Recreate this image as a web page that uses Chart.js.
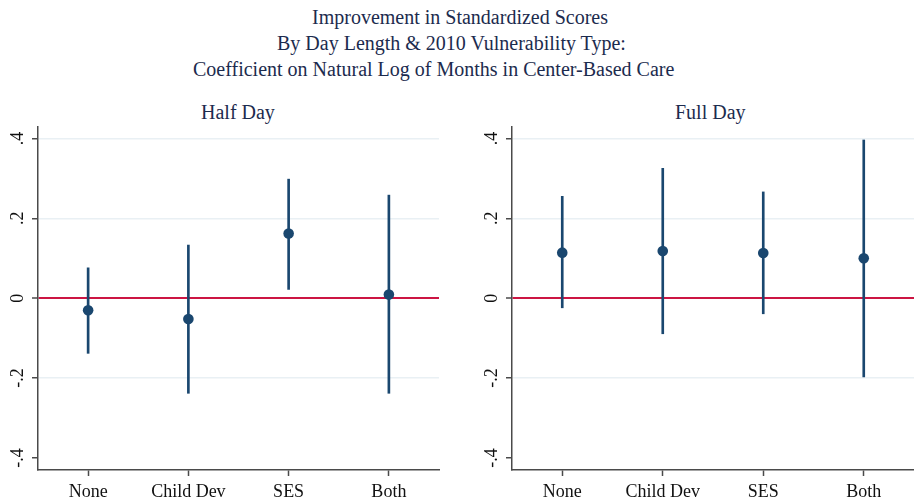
<!DOCTYPE html>
<html>
<head>
<meta charset="utf-8">
<script src="https://cdn.jsdelivr.net/npm/chart.js@4/dist/chart.umd.min.js"></script>
<style>
  html, body { margin: 0; padding: 0; background: #ffffff; }
  #wrap { position: relative; width: 914px; height: 504px; overflow: hidden;
          font-family: "Liberation Serif", "Times New Roman", serif; }
  .tl { position: absolute; font-size: 20px; line-height: 26px; color: #1c2b4e; white-space: nowrap; }
  .pt { position: absolute; top: 101px; font-size: 20px; line-height: 22px; color: #1c2b4e; white-space: nowrap; }
  canvas { position: absolute; top: 0; }
</style>
</head>
<body>
<div id="wrap">
  <div class="tl" style="left:312px; top:4px;">Improvement in Standardized Scores</div>
  <div class="tl" style="left:277px; top:30px;">By Day Length &amp; 2010 Vulnerability Type:</div>
  <div class="tl" style="left:193px; top:56px;">Coefficient on Natural Log of Months in Center-Based Care</div>
  <div class="pt" style="left:201px;">Half Day</div>
  <div class="pt" style="left:675px;">Full Day</div>
  <canvas id="half" width="460" height="504" style="left:0;"></canvas>
  <canvas id="full" width="454" height="504" style="left:460px;"></canvas>
</div>
<script>
// Vulnerability groups on the x axis
const categories = ['None', 'Child Dev', 'SES', 'Both'];

// Half-day programmes: point estimate and 95% confidence bounds
const halfEst = [-0.030, -0.052, 0.162, 0.009];
const halfLo  = [-0.138, -0.238, 0.022, -0.238];
const halfHi  = [0.076, 0.133, 0.298, 0.258];

// Full-day programmes
const fullEst = [0.114, 0.118, 0.113, 0.100];
const fullLo  = [-0.024, -0.089, -0.039, -0.197];
const fullHi  = [0.255, 0.325, 0.266, 0.396];

// Y axis ticks
const yTickValues = [-0.4, -0.2, 0, 0.2, 0.4];
const yTickLabels = ['-.4', '-.2', '0', '.2', '.4'];

const SERIF = '"Liberation Serif", "Times New Roman", serif';
const NAVY = '#1a476f';
const AXIS = '#4a4a4a';
const GRID = '#e9f0f4';
const ZERO = '#cc1543';

function makePanel(id, est, lo, hi, yAxisWidth, rightPad) {
  const ranges = lo.map((v, i) => [v, hi[i]]);
  return new Chart(document.getElementById(id), {
    type: 'bar',
    data: {
      labels: categories,
      datasets: [
        {
          type: 'line',
          data: est,
          showLine: false,
          pointRadius: 5.3,
          pointHoverRadius: 5.3,
          pointBackgroundColor: NAVY,
          pointBorderWidth: 0,
          order: 0
        },
        {
          type: 'bar',
          data: ranges,
          backgroundColor: NAVY,
          borderWidth: 0,
          barThickness: 2,
          order: 1
        }
      ]
    },
    options: {
      responsive: false,
      maintainAspectRatio: false,
      animation: false,
      devicePixelRatio: 1,
      layout: { autoPadding: false, padding: { top: 127, bottom: 0, left: 0, right: rightPad } },
      plugins: { legend: { display: false }, tooltip: { enabled: false }, title: { display: false } },
      scales: {
        x: {
          type: 'category',
          offset: true,
          grid: { offset: false, drawOnChartArea: false, drawTicks: true, tickLength: 6,
                  tickColor: AXIS, tickWidth: 1.5 },
          border: { display: true, color: AXIS, width: 1.5 },
          ticks: { font: { family: SERIF, size: 18 }, color: '#111111', padding: 5,
                   maxRotation: 0, autoSkip: false },
          afterFit(s) { s.height = 34; s.paddingLeft = 0; s.paddingRight = 0; }
        },
        y: {
          type: 'linear',
          min: -0.43,
          max: 0.4285,
          afterBuildTicks(s) { s.ticks = yTickValues.map(v => ({ value: v })); },
          grid: {
            color: ctx => {
              const v = ctx.tick ? ctx.tick.value : null;
              if (v === 0) return ZERO;
              if (v === -0.4) return 'rgba(0,0,0,0)';
              return GRID;
            },
            lineWidth: ctx => (ctx.tick && ctx.tick.value === 0 ? 2 : 1.5),
            drawTicks: true,
            tickLength: 6,
            tickColor: AXIS,
            tickWidth: 1.5
          },
          border: { display: true, color: AXIS, width: 1.5 },
          ticks: {
            callback: v => yTickLabels[yTickValues.indexOf(v)],
            font: { family: SERIF, size: 18 },
            color: '#111111',
            minRotation: 90,
            maxRotation: 90,
            crossAlign: 'center',
            padding: 4
          },
          afterFit(s) { s.width = yAxisWidth; s.paddingTop = 0; s.paddingBottom = 0; }
        }
      }
    }
  });
}

makePanel('half', halfEst, halfLo, halfHi, 38, 21);
makePanel('full', fullEst, fullLo, fullHi, 52, 0);
</script>
</body>
</html>
